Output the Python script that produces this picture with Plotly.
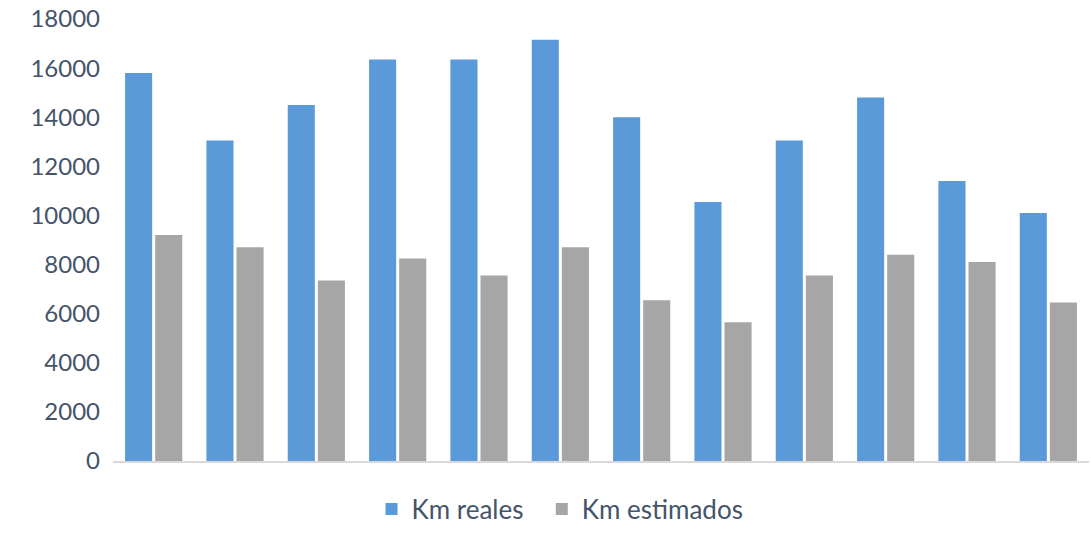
import plotly.graph_objects as go

categories = [str(i) for i in range(1, 13)]
km_reales = [15800, 13050, 14500, 16350, 16350, 17150, 14000, 10550, 13050, 14800, 11400, 10100]
km_estimados = [9200, 8700, 7350, 8250, 7550, 8700, 6550, 5650, 7550, 8400, 8100, 6450]
y_ticks = list(range(0, 18001, 2000))
y_tick_labels = [str(v) for v in y_ticks]
series_names = ["Km reales", "Km estimados"]

font_family = "Lato, 'Open Sans', sans-serif"
text_color = "#44546a"
nb = "\u00a0"

fig = go.Figure()
fig.add_trace(go.Bar(x=categories, y=km_reales, name=series_names[0] + nb * 2,
                     marker=dict(color="#5a9ad8", line=dict(width=0))))
fig.add_trace(go.Bar(x=categories, y=km_estimados, name=series_names[1],
                     marker=dict(color="#a6a6a6", line=dict(width=0))))

fig.update_layout(
    width=1091, height=533,
    margin=dict(l=113, r=2, t=19, b=72, autoexpand=False),
    paper_bgcolor="white", plot_bgcolor="white",
    barmode="group", bargap=0.26, bargroupgap=0.1,
    font=dict(family=font_family, size=24, color=text_color),
    legend=dict(orientation="h", x=0.458, xanchor="center",
                yref="container", y=0.045, yanchor="middle",
                font=dict(size=26, color=text_color), itemwidth=30,
                traceorder="normal", bgcolor="rgba(0,0,0,0)"),
    xaxis=dict(showticklabels=False, showgrid=False, zeroline=False,
               showline=True, linecolor="#d9d9d9", linewidth=2, ticks=""),
    yaxis=dict(range=[0, 18000], tickvals=y_ticks, ticktext=y_tick_labels,
               showgrid=False, zeroline=False,
               showline=False, ticks="", ticklabelstandoff=12,
               tickfont=dict(size=24, color=text_color)),
)

fig.write_html("out.html")
